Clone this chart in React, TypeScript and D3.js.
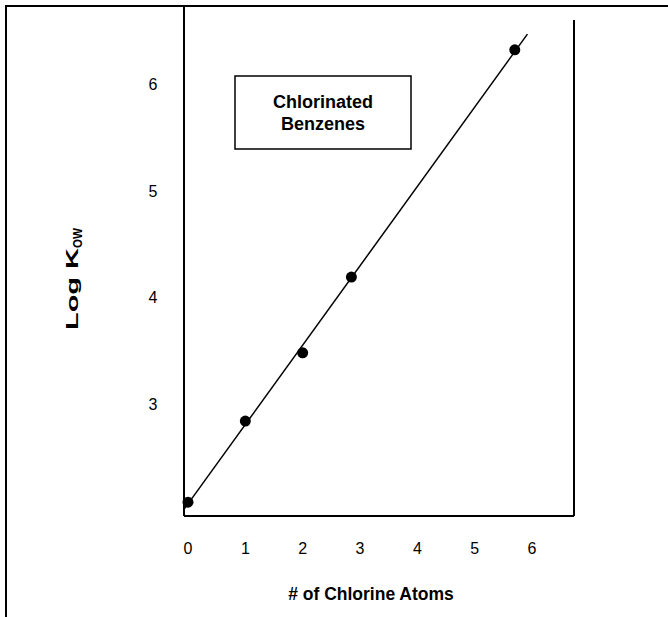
import React from "react";
import * as d3 from "d3";

const chlorineAtoms = [0, 1, 2, 2.85, 5.7];
const logKow = [2.08, 2.84, 3.48, 4.19, 6.32];
const xTicks = [0, 1, 2, 3, 4, 5, 6];
const yTicks = [3, 4, 5, 6];
const legendLines = ["Chlorinated", "Benzenes"];
const xTitle = "# of Chlorine Atoms";

export default function App() {
  const W = 668, H = 617;
  const x = d3.scaleLinear().domain([0, 6]).range([188, 532]);
  const y = d3.scaleLinear().domain([3, 6]).range([404, 84]);

  // plot frame
  const left = 184, right = 574, bottom = 516, topLeft = 7, topRight = 20;

  // least squares fit
  const mx = d3.mean(chlorineAtoms)!;
  const my = d3.mean(logKow)!;
  let sxx = 0, sxy = 0;
  chlorineAtoms.forEach((xi, i) => {
    sxx += (xi - mx) * (xi - mx);
    sxy += (xi - mx) * (logKow[i] - my);
  });
  const slope = sxy / sxx;
  const intercept = my - slope * mx;
  const x0 = x.invert(left);
  const x1 = 5.92;
  const line = d3.line<number>().x((d) => x(d)).y((d) => y(intercept + slope * d));

  const font = "'Liberation Sans', Arial, sans-serif";

  return (
    <div style={{ position: "fixed", left: 0, top: 0 }}>
      <svg width={W} height={H} style={{ display: "block", background: "#fff" }}>
        <rect x={6} y={6} width={800} height={800} fill="none" stroke="#000" strokeWidth={2} />
        <line x1={left} x2={left} y1={topLeft} y2={bottom} stroke="#000" strokeWidth={2} />
        <line x1={right} x2={right} y1={topRight} y2={bottom} stroke="#000" strokeWidth={2} />
        <line x1={left} x2={right} y1={bottom} y2={bottom} stroke="#000" strokeWidth={2} />

        <path d={line([x0, x1]) || ""} fill="none" stroke="#000" strokeWidth={1.5} />
        {chlorineAtoms.map((d, i) => (
          <circle key={i} cx={x(d)} cy={y(logKow[i])} r={5.5} fill="#000" />
        ))}

        {xTicks.map((t) => (
          <text key={t} x={x(t)} y={554} textAnchor="middle" fontFamily={font} fontSize={16}>
            {t}
          </text>
        ))}
        {yTicks.map((t) => (
          <text key={t} x={153} y={y(t) + 6} textAnchor="middle" fontFamily={font} fontSize={16}>
            {t}
          </text>
        ))}

        <text x={371} y={600} textAnchor="middle" fontFamily={font} fontSize={17.5} fontWeight="bold">
          {xTitle}
        </text>
        <text
          transform="translate(78,330) rotate(-90)"
          fontFamily={font}
          fontSize={17}
          fontWeight="bold"
        >
          <tspan textLength={82} lengthAdjust="spacingAndGlyphs">Log K</tspan>
          <tspan fontSize={13} dy={4} textLength={20} lengthAdjust="spacingAndGlyphs">OW</tspan>
        </text>

        <rect x={235} y={76} width={176} height={73} fill="#fff" stroke="#000" strokeWidth={1.5} />
        {legendLines.map((s, i) => (
          <text key={s} x={323} y={108 + i * 22} textAnchor="middle" fontFamily={font} fontSize={18} fontWeight="bold">
            {s}
          </text>
        ))}
      </svg>
    </div>
  );
}
